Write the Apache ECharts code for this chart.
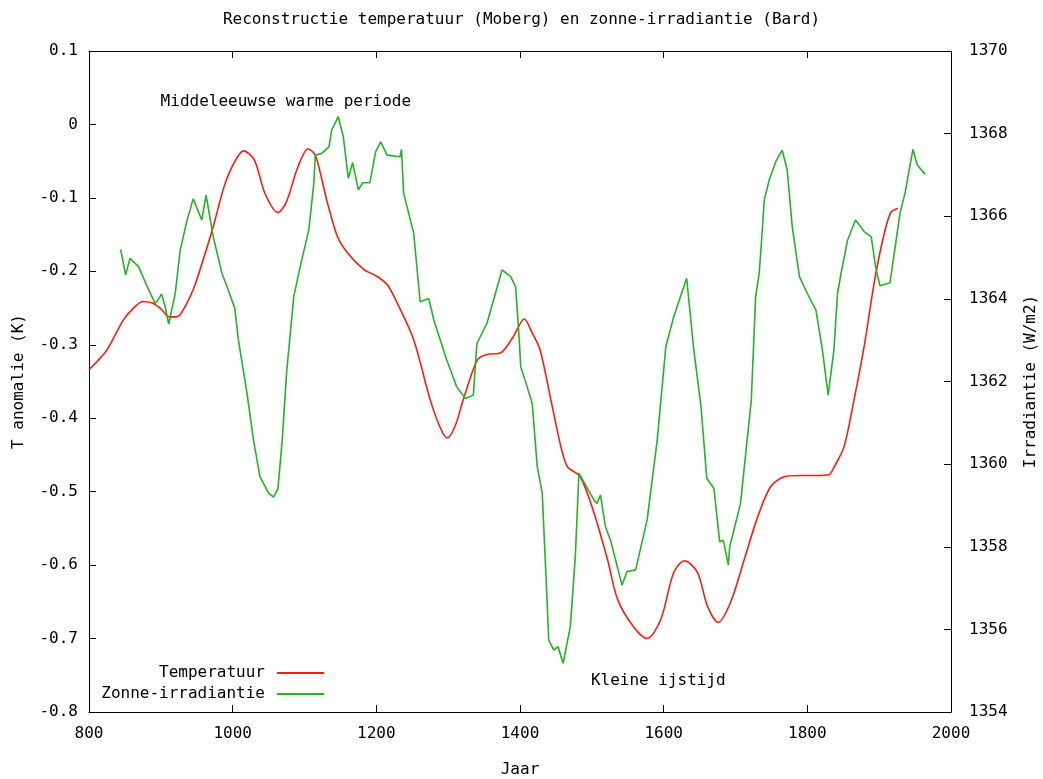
<!DOCTYPE html>
<html>
<head>
<meta charset="utf-8">
<script src="https://cdn.jsdelivr.net/npm/echarts@6/dist/echarts.min.js"></script>
<style>
html,body{margin:0;padding:0;background:#fff;}
#c{width:1043px;height:779px;}
</style>
</head>
<body>
<div id="c"></div>
<script>
// Temperature reconstruction (Moberg), anomaly in K
const tempYears = [800,812,825,848,862,875,888,899,912,920,927,945,959,973,988,1000,1015,1030,1045,1063,1075,1090,1105,1115,1122,1131,1146,1160,1182,1201,1215,1229,1252,1275,1290,1299,1310,1321,1341,1355,1373,1390,1406,1417,1428,1443,1457,1466,1484,1503,1522,1536,1558,1577,1596,1614,1629,1647,1661,1676,1693,1712,1731,1749,1767,1790,1810,1830,1837,1851,1865,1879,1893,1905,1916,1926];
const tempValues = [-0.334,-0.322,-0.307,-0.266,-0.250,-0.241,-0.243,-0.250,-0.262,-0.262,-0.259,-0.225,-0.184,-0.139,-0.085,-0.056,-0.036,-0.048,-0.094,-0.120,-0.105,-0.060,-0.033,-0.042,-0.066,-0.103,-0.153,-0.175,-0.197,-0.207,-0.218,-0.243,-0.293,-0.375,-0.415,-0.427,-0.410,-0.375,-0.320,-0.313,-0.311,-0.290,-0.265,-0.284,-0.307,-0.375,-0.439,-0.466,-0.480,-0.529,-0.593,-0.647,-0.684,-0.700,-0.674,-0.610,-0.594,-0.610,-0.656,-0.678,-0.651,-0.593,-0.534,-0.493,-0.480,-0.478,-0.478,-0.477,-0.467,-0.439,-0.375,-0.303,-0.216,-0.157,-0.120,-0.114];

// Solar irradiance reconstruction (Bard), W/m2
const irrYears = [844,851,857,869,880,892,897,901,906,911,920,927,936,945,957,963,973,985,994,1003,1008,1020,1029,1038,1050,1057,1063,1069,1075,1085,1094,1106,1113,1115,1124,1134,1138,1147,1154,1161,1167,1175,1181,1191,1199,1206,1215,1233,1235,1238,1252,1261,1273,1280,1298,1312,1324,1335,1340,1354,1375,1387,1394,1399,1401,1410,1417,1424,1431,1436,1440,1447,1453,1460,1470,1477,1482,1503,1507,1512,1519,1526,1542,1549,1561,1577,1591,1603,1614,1632,1642,1652,1660,1670,1678,1683,1690,1692,1707,1722,1728,1733,1737,1740,1747,1756,1765,1772,1779,1789,1800,1812,1821,1829,1837,1842,1847,1856,1867,1879,1889,1895,1901,1915,1921,1929,1936,1947,1953,1964];
const irrValues = [1365.2,1364.58,1364.98,1364.78,1364.34,1363.89,1364.0,1364.12,1363.81,1363.39,1364.13,1365.18,1365.87,1366.42,1365.91,1366.51,1365.5,1364.62,1364.21,1363.77,1363.0,1361.71,1360.58,1359.7,1359.3,1359.2,1359.4,1360.58,1362.2,1364.05,1364.78,1365.67,1366.8,1367.48,1367.52,1367.68,1368.09,1368.41,1367.93,1366.92,1367.3,1366.64,1366.81,1366.81,1367.56,1367.8,1367.48,1367.44,1367.62,1366.56,1365.59,1363.93,1364.01,1363.49,1362.52,1361.87,1361.59,1361.67,1362.92,1363.41,1364.7,1364.54,1364.29,1363.0,1362.36,1361.87,1361.47,1359.94,1359.29,1357.36,1355.74,1355.5,1355.58,1355.18,1356.06,1357.76,1359.78,1359.13,1359.05,1359.25,1358.48,1358.16,1357.07,1357.4,1357.44,1358.65,1360.58,1362.84,1363.57,1364.5,1362.76,1361.39,1359.66,1359.41,1358.12,1358.16,1357.56,1358.0,1359.05,1361.55,1364.05,1364.62,1365.59,1366.39,1366.88,1367.32,1367.6,1367.12,1365.75,1364.54,1364.13,1363.73,1362.76,1361.67,1362.76,1364.13,1364.62,1365.42,1365.91,1365.63,1365.5,1364.78,1364.32,1364.39,1365.1,1366.07,1366.56,1367.62,1367.24,1367.02];

const seriesNames = ['Temperatuur', 'Zonne-irradiantie'];
const annotations = [
  {text: 'Middeleeuwse warme periode', year: 899, value: 0.031},
  {text: 'Kleine ijstijd', year: 1498, value: -0.757}
];

const FONT = 'DejaVu Sans Mono';
const txt = {fontFamily: FONT, fontSize: 16, color: '#000'};

const tempData = tempYears.map((y, i) => [y, tempValues[i]]);
const irrData = irrYears.map((y, i) => [y, irrValues[i]]);

const chart = echarts.init(document.getElementById('c'), null, {renderer: 'canvas'});
chart.setOption({
  animation: false,
  backgroundColor: '#fff',
  title: {
    text: 'Reconstructie temperatuur (Moberg) en zonne-irradiantie (Bard)',
    left: 'center', top: 7,
    textStyle: Object.assign({fontWeight: 'normal'}, txt)
  },
  grid: {left: 89, right: 92, top: 51, bottom: 67, containLabel: false, outerBoundsMode: 'none'},
  legend: [
    {data: [seriesNames[0]], right: 719, top: 665, orient: 'vertical', align: 'right', padding: 0,
     icon: 'rect', itemWidth: 47, itemHeight: 2, textStyle: Object.assign({padding: [0, 7, 0, 0]}, txt)},
    {data: [seriesNames[1]], right: 719, top: 686, orient: 'vertical', align: 'right', padding: 0,
     icon: 'rect', itemWidth: 47, itemHeight: 2, textStyle: Object.assign({padding: [0, 7, 0, 0]}, txt)}
  ],
  xAxis: [
    {type: 'value', min: 800, max: 2000, interval: 200, position: 'bottom',
     name: 'Jaar', nameLocation: 'middle', nameGap: 50, nameTextStyle: txt,
     axisLine: {onZero: false, lineStyle: {color: '#000', width: 1}},
     axisTick: {inside: true, length: 7, lineStyle: {color: '#000'}},
     axisLabel: Object.assign({margin: 14, formatter: v => String(v)}, txt),
     splitLine: {show: false}},
    {type: 'value', min: 800, max: 2000, interval: 200, position: 'top',
     axisLine: {onZero: false, lineStyle: {color: '#000', width: 1}},
     axisTick: {inside: true, length: 7, lineStyle: {color: '#000'}},
     axisLabel: {show: false}, splitLine: {show: false}}
  ],
  yAxis: [
    {type: 'value', min: -0.8, max: 0.1, interval: 0.1, position: 'left',
     name: 'T anomalie (K)', nameLocation: 'middle', nameGap: 62, nameTextStyle: txt,
     axisLine: {show: true, onZero: false, lineStyle: {color: '#000', width: 1}},
     axisTick: {show: true, inside: true, length: 7, lineStyle: {color: '#000'}},
     axisLabel: Object.assign({margin: 11, formatter: v => String(Math.round(v * 10) / 10)}, txt),
     splitLine: {show: false}},
    {type: 'value', min: 1354, max: 1370, interval: 2, position: 'right',
     name: 'Irradiantie (W/m2)', nameLocation: 'middle', nameGap: 72, nameTextStyle: txt,
     axisLine: {show: true, onZero: false, lineStyle: {color: '#000', width: 1}},
     axisTick: {show: true, inside: true, length: 7, lineStyle: {color: '#000'}},
     axisLabel: Object.assign({margin: 18, formatter: v => String(v)}, txt),
     splitLine: {show: false}}
  ],
  series: [
    {name: seriesNames[0], type: 'line', xAxisIndex: 0, yAxisIndex: 0, data: tempData,
     smooth: 0.3, showSymbol: false, symbol: 'none',
     lineStyle: {color: '#ff1a0a', width: 1.6}, itemStyle: {color: '#ff1a0a'},
     markPoint: {
       symbol: 'circle', symbolSize: 1, itemStyle: {color: 'rgba(0,0,0,0)'},
       label: Object.assign({show: true, position: 'right', distance: 0, formatter: p => p.name}, txt),
       data: annotations.map(a => ({name: a.text, coord: [a.year, a.value]}))
     }},
    {name: seriesNames[1], type: 'line', xAxisIndex: 0, yAxisIndex: 1, data: irrData,
     showSymbol: false, symbol: 'none',
     lineStyle: {color: '#22b422', width: 1.6}, itemStyle: {color: '#22b422'}}
  ]
});
</script>
</body>
</html>
